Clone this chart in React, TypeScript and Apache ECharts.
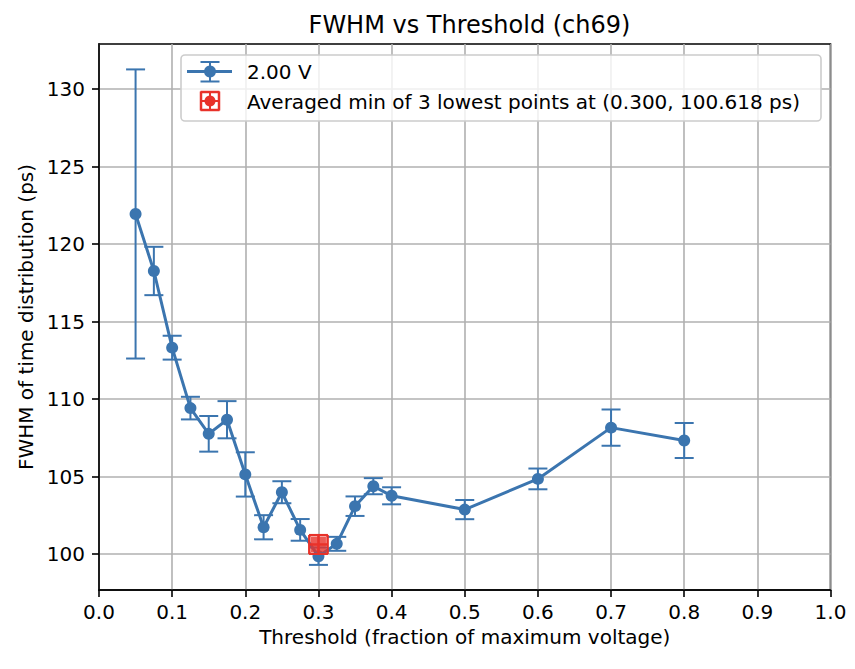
import React, { useEffect, useRef } from "react";
import * as echarts from "echarts";

const thresholds = [0.05, 0.075, 0.1, 0.125, 0.15, 0.175, 0.2, 0.225, 0.25, 0.275, 0.3, 0.325, 0.35, 0.375, 0.4, 0.5, 0.6, 0.7, 0.8];
const fwhm = [121.95, 118.27, 113.32, 109.42, 107.76, 108.67, 105.14, 101.73, 103.99, 101.56, 99.86, 100.66, 103.09, 104.38, 103.76, 102.87, 104.85, 108.16, 107.33];
const fwhmErr = [9.33, 1.56, 0.77, 0.73, 1.15, 1.2, 1.43, 0.78, 0.71, 0.7, 0.56, 0.45, 0.63, 0.52, 0.55, 0.62, 0.67, 1.17, 1.13];

const minPoint = [0.3, 100.618];
const minErr = [0.0125, 0.6];

const xTicks = [0, 0.1, 0.2, 0.3, 0.4, 0.5, 0.6, 0.7, 0.8, 0.9, 1.0];
const yTicks = [100, 105, 110, 115, 120, 125, 130];

const seriesName = "2.00 V";
const minName = "Averaged min of 3 lowest points at (0.300, 100.618 ps)";
const titleText = "FWHM vs Threshold (ch69)";
const xName = "Threshold (fraction of maximum voltage)";
const yName = "FWHM of time distribution (ps)";

const BLUE = "#3b75af";
const RED = "#e8322a";
const FONT = "DejaVu Sans";

export default function App() {
  const ref = useRef<HTMLDivElement>(null);

  useEffect(() => {
    document.body.style.margin = "0";
    const chart = echarts.init(ref.current!, null, { renderer: "svg" });
    const cap = 9.5;

    const lineData = thresholds.map((t, i) => [t, fwhm[i]]);
    const errData = thresholds.map((t, i) => [t, fwhm[i], fwhmErr[i]]);

    const legendGraphic: any[] = [
      {
        type: "rect",
        shape: { x: 181, y: 55, width: 640, height: 66, r: 4 },
        style: { fill: "rgba(255,255,255,0.8)", stroke: "#cccccc", lineWidth: 1.6 },
        z: 100,
      },
      { type: "line", shape: { x1: 187, y1: 71.5, x2: 232, y2: 71.5 }, style: { stroke: BLUE, lineWidth: 3 }, z: 101 },
      { type: "line", shape: { x1: 210, y1: 62, x2: 210, y2: 81.5 }, style: { stroke: BLUE, lineWidth: 2 }, z: 101 },
      { type: "line", shape: { x1: 200.5, y1: 62, x2: 219.5, y2: 62 }, style: { stroke: BLUE, lineWidth: 2 }, z: 101 },
      { type: "line", shape: { x1: 200.5, y1: 81.5, x2: 219.5, y2: 81.5 }, style: { stroke: BLUE, lineWidth: 2 }, z: 101 },
      { type: "circle", shape: { cx: 210, cy: 71.5, r: 6 }, style: { fill: BLUE }, z: 102 },
      {
        type: "text",
        style: { text: seriesName, x: 247, y: 72, fill: "#000", fontSize: 20, fontFamily: FONT, align: "left", verticalAlign: "middle" },
        z: 102,
      },
      { type: "line", shape: { x1: 201, y1: 91.5, x2: 201, y2: 110.5 }, style: { stroke: RED, lineWidth: 2.5 }, z: 101 },
      { type: "line", shape: { x1: 219, y1: 91.5, x2: 219, y2: 110.5 }, style: { stroke: RED, lineWidth: 2.5 }, z: 101 },
      { type: "line", shape: { x1: 200.5, y1: 92, x2: 219.5, y2: 92 }, style: { stroke: RED, lineWidth: 2.5 }, z: 101 },
      { type: "line", shape: { x1: 200.5, y1: 110, x2: 219.5, y2: 110 }, style: { stroke: RED, lineWidth: 2.5 }, z: 101 },
      { type: "line", shape: { x1: 201, y1: 101, x2: 219, y2: 101 }, style: { stroke: RED, lineWidth: 2 }, z: 101 },
      { type: "line", shape: { x1: 210, y1: 92, x2: 210, y2: 110 }, style: { stroke: RED, lineWidth: 2 }, z: 101 },
      { type: "circle", shape: { cx: 210, cy: 101, r: 5.5 }, style: { fill: RED }, z: 102 },
      {
        type: "text",
        style: { text: minName, x: 247, y: 102, fill: "#000", fontSize: 20, fontFamily: FONT, align: "left", verticalAlign: "middle" },
        z: 102,
      },
    ];

    chart.setOption({
      animation: false,
      backgroundColor: "#fff",
      textStyle: { fontFamily: FONT },
      title: {
        text: titleText,
        left: 464.5,
        textAlign: "center",
        top: 8,
        textStyle: { fontSize: 24, fontWeight: "normal", color: "#000", fontFamily: FONT },
      },
      grid: {
        left: 99,
        right: 24.5,
        top: 44,
        bottom: 79,
        show: true,
        borderColor: "#000",
        borderWidth: 1.6,
        backgroundColor: "#fff",
      },
      xAxis: {
        type: "value",
        min: 0,
        max: 1,
        interval: 0.1,
        name: xName,
        nameLocation: "middle",
        nameGap: 36,
        nameTextStyle: { fontSize: 20, color: "#000", fontFamily: FONT },
        axisLine: { show: true, lineStyle: { color: "#000", width: 1.6 } },
        axisTick: { show: true, length: 7, lineStyle: { color: "#000", width: 1.6 } },
        axisLabel: {
          fontSize: 20,
          color: "#000",
          margin: 12,
          formatter: (v: number) => v.toFixed(1),
          customValues: xTicks,
        },
        splitLine: { show: true, lineStyle: { color: "#b0b0b0", width: 1.6 } },
      },
      yAxis: {
        type: "value",
        min: 97.68,
        max: 132.92,
        name: yName,
        nameLocation: "middle",
        nameGap: 59,
        nameRotate: 90,
        nameTextStyle: { fontSize: 20, color: "#000", fontFamily: FONT },
        axisLine: { show: true, lineStyle: { color: "#000", width: 1.6 } },
        axisTick: { show: true, length: 7, lineStyle: { color: "#000", width: 1.6 }, customValues: yTicks },
        axisLabel: {
          fontSize: 20,
          color: "#000",
          margin: 14,
          customValues: yTicks,
          formatter: (v: number) => (Math.abs(v % 5) < 1e-6 ? String(Math.round(v)) : ""),
        },
        splitLine: { show: true, lineStyle: { color: "#b0b0b0", width: 1.6 } },
      },
      graphic: legendGraphic,
      series: [
        {
          type: "custom",
          name: seriesName + " err",
          data: errData,
          encode: { x: 0, y: 1 },
          z: 2,
          renderItem: (params: any, api: any) => {
            const x = api.value(0);
            const y = api.value(1);
            const e = api.value(2);
            const top = api.coord([x, y + e]);
            const bot = api.coord([x, y - e]);
            const st = { stroke: BLUE, lineWidth: 2 };
            return {
              type: "group",
              children: [
                { type: "line", shape: { x1: top[0], y1: top[1], x2: bot[0], y2: bot[1] }, style: st },
                { type: "line", shape: { x1: top[0] - cap, y1: top[1], x2: top[0] + cap, y2: top[1] }, style: st },
                { type: "line", shape: { x1: bot[0] - cap, y1: bot[1], x2: bot[0] + cap, y2: bot[1] }, style: st },
              ],
            };
          },
        },
        {
          type: "line",
          name: seriesName,
          data: lineData,
          z: 3,
          symbol: "circle",
          symbolSize: 12,
          showAllSymbol: true,
          lineStyle: { color: BLUE, width: 3 },
          itemStyle: { color: BLUE },
        },
        {
          type: "custom",
          name: minName + " err",
          data: [[minPoint[0], minPoint[1], minErr[0], minErr[1]]],
          encode: { x: 0, y: 1 },
          z: 4,
          renderItem: (params: any, api: any) => {
            const x = api.value(0);
            const y = api.value(1);
            const ex = api.value(2);
            const ey = api.value(3);
            const l = api.coord([x - ex, y]);
            const r = api.coord([x + ex, y]);
            const t = api.coord([x, y + ey]);
            const b = api.coord([x, y - ey]);
            const st = { stroke: RED, lineWidth: 2.5 };
            return {
              type: "group",
              children: [
                { type: "line", shape: { x1: l[0], y1: l[1], x2: r[0], y2: r[1] }, style: st },
                { type: "line", shape: { x1: t[0], y1: t[1], x2: b[0], y2: b[1] }, style: st },
                { type: "line", shape: { x1: l[0], y1: l[1] - cap, x2: l[0], y2: l[1] + cap }, style: st },
                { type: "line", shape: { x1: r[0], y1: r[1] - cap, x2: r[0], y2: r[1] + cap }, style: st },
                { type: "line", shape: { x1: t[0] - cap, y1: t[1], x2: t[0] + cap, y2: t[1] }, style: st },
                { type: "line", shape: { x1: b[0] - cap, y1: b[1], x2: b[0] + cap, y2: b[1] }, style: st },
              ],
            };
          },
        },
        {
          type: "scatter",
          name: minName,
          data: [minPoint],
          z: 5,
          symbol: "rect",
          symbolSize: 15,
          itemStyle: { color: RED },
        },
      ],
    });

    return () => chart.dispose();
  }, []);

  return <div ref={ref} style={{ width: 855, height: 669 }} />;
}
